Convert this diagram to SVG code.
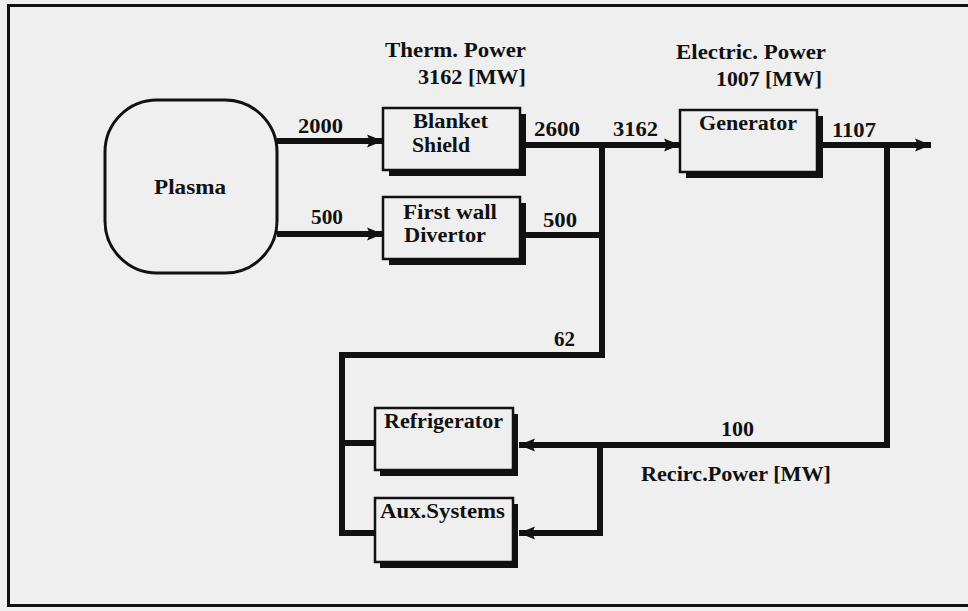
<svg xmlns="http://www.w3.org/2000/svg" width="968" height="611" viewBox="0 0 968 611">
<defs>
<style>
text{font-family:"Liberation Serif","Times New Roman",serif;font-weight:bold;font-size:20px;fill:#111}
.box{fill:#efefef;stroke:#111;stroke-width:2.5}
.shadow{fill:#111}
.wire{fill:none;stroke:#111;stroke-width:6;stroke-linejoin:miter;stroke-linecap:butt}
</style>
<marker id="ah" markerUnits="userSpaceOnUse" markerWidth="18" markerHeight="16" refX="16" refY="8" orient="auto">
<path d="M0,1.5 L16,8 L0,14.5 L3,8 z" fill="#111"/>
</marker>
</defs>
<rect x="0" y="0" width="968" height="611" fill="#efefef"/>
<path d="M970,5.5 H8.5 V605.5 H970" fill="none" stroke="#111" stroke-width="3"/>

<g id="labels">
<text x="385" y="57" textLength="141" lengthAdjust="spacingAndGlyphs">Therm. Power</text>
<text x="418" y="84" textLength="108" lengthAdjust="spacingAndGlyphs">3162 [MW]</text>
<text x="676" y="59" textLength="150" lengthAdjust="spacingAndGlyphs">Electric. Power</text>
<text x="716" y="86" textLength="106" lengthAdjust="spacingAndGlyphs">1007 [MW]</text>
<text x="641" y="481" textLength="190" lengthAdjust="spacingAndGlyphs">Recirc.Power [MW]</text>
</g>

<g id="connectors">
<path class="wire" d="M277,141 H383" marker-end="url(#ah)"/>
<path class="wire" d="M277,234 H383" marker-end="url(#ah)"/>
<path class="wire" d="M520,145 H680" marker-end="url(#ah)"/>
<path class="wire" d="M520,235 H602"/>
<path class="wire" d="M602,142 V355 H342 V533 H375"/>
<path class="wire" d="M342,443 H375"/>
<path class="wire" d="M817,145 H931" marker-end="url(#ah)"/>
<path class="wire" d="M887,142 V445 H519" marker-end="url(#ah)"/>
<path class="wire" d="M600,445 V533 H519" marker-end="url(#ah)"/>
<text x="298" y="133" textLength="45" lengthAdjust="spacingAndGlyphs">2000</text>
<text x="311" y="224" textLength="32" lengthAdjust="spacingAndGlyphs">500</text>
<text x="534" y="136" textLength="46" lengthAdjust="spacingAndGlyphs">2600</text>
<text x="613" y="136" textLength="45" lengthAdjust="spacingAndGlyphs">3162</text>
<text x="832" y="137" textLength="44" lengthAdjust="spacingAndGlyphs">1107</text>
<text x="543" y="227" textLength="34" lengthAdjust="spacingAndGlyphs">500</text>
<text x="554" y="346" textLength="21" lengthAdjust="spacingAndGlyphs">62</text>
<text x="721" y="436" textLength="33" lengthAdjust="spacingAndGlyphs">100</text>
</g>

<g id="plasma">
<rect x="105" y="100" width="172" height="173" rx="52" ry="52" fill="#efefef" stroke="#111" stroke-width="3"/>
<text x="154" y="194" textLength="72" lengthAdjust="spacingAndGlyphs">Plasma</text>
</g>

<g id="blanket">
<rect class="shadow" x="389" y="114" width="137" height="62"/>
<rect class="box" x="383" y="108" width="137" height="62"/>
<text x="413" y="128" textLength="75" lengthAdjust="spacingAndGlyphs">Blanket</text>
<text x="412" y="152" textLength="58" lengthAdjust="spacingAndGlyphs">Shield</text>
</g>

<g id="firstwall">
<rect class="shadow" x="389" y="203" width="137" height="62"/>
<rect class="box" x="383" y="197" width="137" height="62"/>
<text x="403" y="219" textLength="94" lengthAdjust="spacingAndGlyphs">First wall</text>
<text x="404" y="242" textLength="82" lengthAdjust="spacingAndGlyphs">Divertor</text>
</g>

<g id="generator">
<rect class="shadow" x="686" y="116" width="137" height="62"/>
<rect class="box" x="680" y="110" width="137" height="62"/>
<text x="699" y="130" textLength="98" lengthAdjust="spacingAndGlyphs">Generator</text>
</g>

<g id="refrigerator">
<rect class="shadow" x="380" y="414" width="138" height="62"/>
<rect class="box" x="375" y="408" width="138" height="62"/>
<text x="384" y="428" textLength="119" lengthAdjust="spacingAndGlyphs">Refrigerator</text>
</g>

<g id="auxsystems">
<rect class="shadow" x="380" y="504" width="138" height="64"/>
<rect class="box" x="375" y="498" width="138" height="64"/>
<text x="380" y="518" textLength="125" lengthAdjust="spacingAndGlyphs">Aux.Systems</text>
</g>
</svg>
